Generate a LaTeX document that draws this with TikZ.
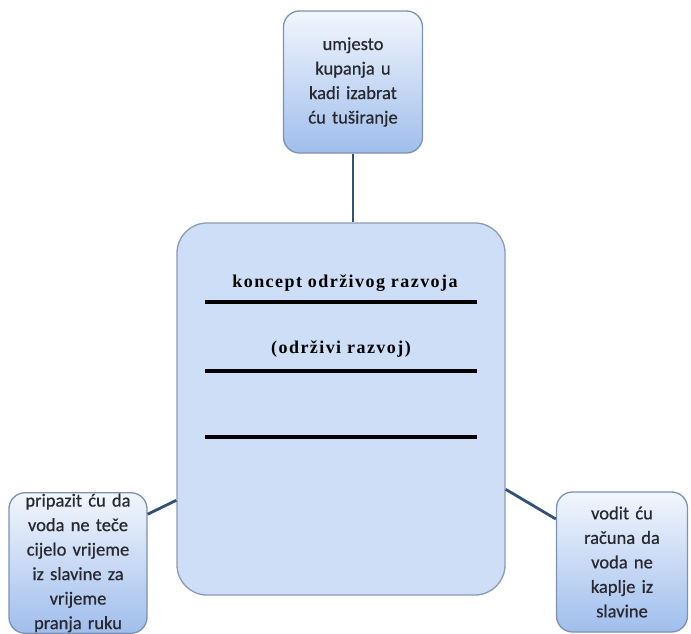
\documentclass[tikz,border=0pt]{standalone}
\usepackage{fontspec}
\setmainfont{Carlito}
\newfontfamily\boxfont[FakeBold=0.6]{Carlito}
\newfontfamily\titlefont[LetterSpace=8]{Liberation Serif}
\begin{document}
\begin{tikzpicture}[x=1pt,y=-1pt,
  small/.style={draw={rgb,255:red,125;green,145;blue,178},line width=1.3pt,rounded corners=16pt,
    top color={rgb,255:red,242;green,246;blue,253},bottom color={rgb,255:red,160;green,190;blue,236},
    align=center,text={rgb,255:red,40;green,40;blue,48},font=\boxfont\fontsize{18.5}{24.5}\selectfont,inner sep=1pt},
  bigbox/.style={draw={rgb,255:red,140;green,155;blue,180},line width=1.3pt,rounded corners=30pt,
    fill={rgb,255:red,206;green,222;blue,246}},
  conn/.style={draw={rgb,255:red,50;green,80;blue,120},line width=2.8pt},
  rule/.style={line width=3.2pt,black},
  title/.style={font=\titlefont\bfseries\fontsize{18}{21}\selectfont,text=black}]
\useasboundingbox (0,0) rectangle (691,634);
\node[bigbox,minimum width=328pt,minimum height=372pt] (main) at (341,409) {};
\node[small,minimum width=139pt,minimum height=142pt,text width=134pt] (top) at (353,82)
  {umjesto\\kupanja u\\kadi izabrat\\ću tuširanje};
\node[small,minimum width=138pt,minimum height=136pt,text width=134pt] (lbox) at (78,563)
  {pripazit ću da\\voda ne teče\\cijelo vrijeme\\iz slavine za\\vrijeme\\pranja ruku};
\node[small,minimum width=131pt,minimum height=140pt,text width=127pt] (rbox) at (622,562)
  {vodit ću\\računa da\\voda ne\\kaplje iz\\slavine};
\draw[conn] (top.south) -- (top.south |- main.north);
\draw[conn] (lbox.35) -- (main.209);
\draw[conn] (main.-26) -- (rbox.147);
\node[title] (t1) at (345,283) {koncept održivog razvoja};
\node[title] (t2) at (341,349) {(održivi razvoj)};
\draw[rule] (205,302) -- (477,302);
\draw[rule] (205,371) -- (477,371);
\draw[rule] (205,437) -- (477,437);
\end{tikzpicture}
\end{document}
